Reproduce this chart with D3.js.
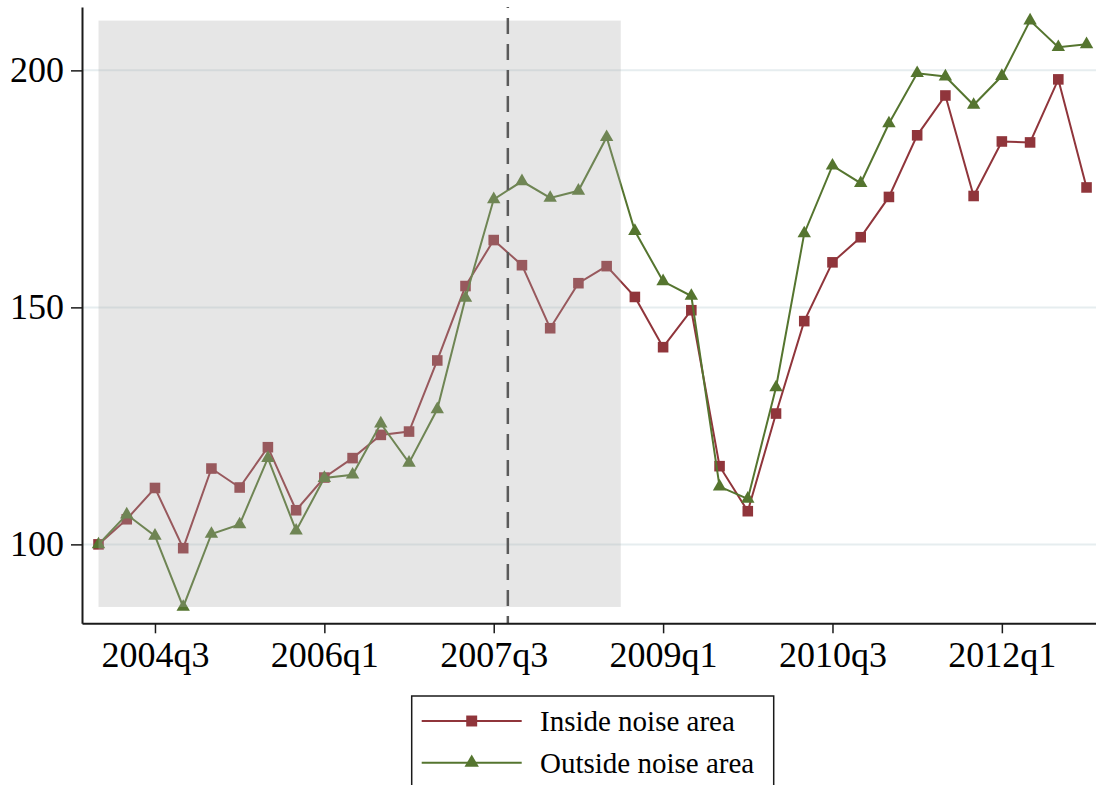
<!DOCTYPE html>
<html>
<head>
<meta charset="utf-8">
<script src="https://cdn.jsdelivr.net/npm/d3@7"></script>
<style>
  html, body { margin: 0; padding: 0; background: #fff; }
  svg { display: block; }
</style>
</head>
<body>
<div id="chart"></div>
<script>
// quarters shown on the x axis
const quarters = [
  "2004q1","2004q2","2004q3","2004q4","2005q1","2005q2","2005q3","2005q4",
  "2006q1","2006q2","2006q3","2006q4","2007q1","2007q2","2007q3","2007q4",
  "2008q1","2008q2","2008q3","2008q4","2009q1","2009q2","2009q3","2009q4",
  "2010q1","2010q2","2010q3","2010q4","2011q1","2011q2","2011q3","2011q4",
  "2012q1","2012q2","2012q3","2012q4"
]
const xTickLabels = ["2004q3", "2006q1", "2007q3", "2009q1", "2010q3", "2012q1"]
const yTickValues = [100, 150, 200]

// price index, 2004q1 = 100
const insideNoise = [
  100.0, 105.3, 111.9, 99.2, 116.0, 112.0, 120.5, 107.2,
  114.1, 118.2, 123.1, 123.8, 138.8, 154.5, 164.2, 158.9,
  145.6, 155.1, 158.7, 152.2, 141.6, 149.4, 116.5, 107.0,
  127.6, 147.1, 159.5, 164.8, 173.3, 186.3, 194.7, 173.5,
  185.0, 184.8, 198.1, 175.3
]
const outsideNoise = [
  100.0, 106.3, 101.8, 86.8, 102.2, 104.2, 118.2, 102.9,
  114.0, 114.7, 125.5, 117.2, 128.5, 152.0, 172.8, 176.6,
  173.1, 174.6, 185.9, 166.1, 155.5, 152.4, 112.2, 109.6,
  133.1, 165.6, 179.9, 176.2, 188.8, 199.4, 198.7, 192.7,
  198.8, 210.5, 204.9, 205.5
]

// shaded period and the event line (both sit halfway between two quarters)
const shadeFrom = ["2004q1", "2004q1"]
const shadeTo = ["2008q3", "2008q4"]
const eventBetween = ["2007q3", "2007q4"]

const seriesNames = ["Inside noise area", "Outside noise area"]
const seriesColors = ["#90353b", "#55752f"]
const seriesSymbols = [d3.symbolSquare, d3.symbolTriangle]

const width = 1096, height = 785
const font = "'Liberation Serif', 'Times New Roman', serif"

const svg = d3.select("#chart").append("svg")
  .attr("width", width)
  .attr("height", height)

const x = d3.scaleLinear()
  .domain([-0.585, 35.335])
  .range([82, 1096])
const y = d3.scaleLinear()
  .domain([83.35, 213.37])
  .range([623.3, 7])

const qx = q => x(quarters.indexOf(q))
const midX = pair => (qx(pair[0]) + qx(pair[1])) / 2

/**
 * Gridlines
 */
svg.append("g")
  .selectAll("line")
  .data(yTickValues)
  .join("line")
  .attr("x1", x.range()[0])
  .attr("x2", x.range()[1])
  .attr("y1", d => y(d))
  .attr("y2", d => y(d))
  .attr("stroke", "#e6edef")
  .attr("stroke-width", 2)

/**
 * Series lines and markers
 */
const series = [insideNoise, outsideNoise]
const line = d3.line()
  .x((d, i) => x(i))
  .y(d => y(d))

series.forEach((vals, k) => {
  const g = svg.append("g")
  g.append("path")
    .datum(vals)
    .attr("d", line)
    .attr("fill", "none")
    .attr("stroke", seriesColors[k])
    .attr("stroke-width", 2)
  g.selectAll("path.mark")
    .data(vals)
    .join("path")
    .attr("class", "mark")
    .attr("transform", (d, i) => `translate(${x(i)},${y(d)})`)
    .attr("d", d3.symbol().type(seriesSymbols[k]).size(k === 0 ? 112 : 78))
    .attr("fill", seriesColors[k])
})

/**
 * Shaded period drawn over the lines
 */
const allVals = insideNoise.concat(outsideNoise)
const ext = d3.extent(allVals)
svg.append("rect")
  .attr("x", midX(shadeFrom))
  .attr("width", midX(shadeTo) - midX(shadeFrom))
  .attr("y", y(ext[1]))
  .attr("height", y(ext[0]) - y(ext[1]))
  .attr("fill", "#acacac")
  .attr("fill-opacity", 0.3)

/**
 * Event line
 */
svg.append("line")
  .attr("x1", midX(eventBetween))
  .attr("x2", midX(eventBetween))
  .attr("y1", y.range()[1])
  .attr("y2", y.range()[0])
  .attr("stroke", "#5a5a5a")
  .attr("stroke-width", 2.5)
  .attr("stroke-dasharray", "16,10")
  .attr("stroke-dashoffset", 15)

/**
 * Axes
 */
const yAxis = svg.append("g")
  .attr("transform", `translate(${x.range()[0]},0)`)
  .call(d3.axisLeft(y).tickValues(yTickValues).tickSize(11).tickSizeOuter(0).tickPadding(7))
const xAxis = svg.append("g")
  .attr("transform", `translate(0,${y.range()[0]})`)
  .call(d3.axisBottom(x)
    .tickValues(xTickLabels.map(q => quarters.indexOf(q)))
    .tickFormat(i => quarters[i])
    .tickSize(10).tickSizeOuter(0).tickPadding(8))

;[yAxis, xAxis].forEach(a => {
  a.select(".domain").attr("stroke", "#1a1a1a").attr("stroke-width", 2)
  a.selectAll(".tick line").attr("stroke", "#1a1a1a").attr("stroke-width", 1.5)
  a.selectAll("text")
    .attr("font-family", font)
    .attr("font-size", 36)
    .attr("fill", "#000")
})

/**
 * Legend
 */
const legend = svg.append("g").attr("transform", "translate(411.7,696)")
legend.append("rect")
  .attr("width", 362)
  .attr("height", 120)
  .attr("fill", "#fff")
  .attr("stroke", "#1a1a1a")
  .attr("stroke-width", 1.5)

seriesNames.forEach((name, k) => {
  const row = legend.append("g").attr("transform", `translate(0,${25 + k * 41.7})`)
  row.append("line")
    .attr("x1", 10).attr("x2", 110)
    .attr("stroke", seriesColors[k])
    .attr("stroke-width", 2)
  row.append("path")
    .attr("transform", "translate(60,0)")
    .attr("d", d3.symbol().type(seriesSymbols[k]).size(k === 0 ? 120 : 90))
    .attr("fill", seriesColors[k])
  row.append("text")
    .attr("x", 128.3)
    .attr("dy", "0.36em")
    .attr("font-family", font)
    .attr("font-size", 29)
    .attr("fill", "#000")
    .text(name)
})
</script>
</body>
</html>
